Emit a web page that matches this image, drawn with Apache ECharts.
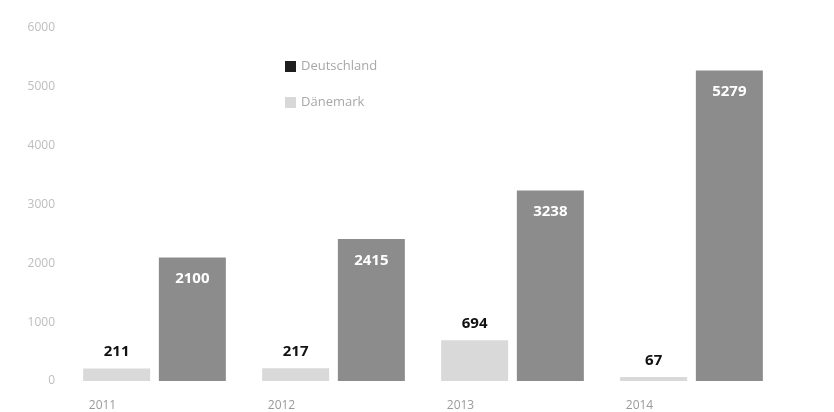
<!DOCTYPE html>
<html>
<head>
<meta charset="utf-8">
<script src="https://cdn.jsdelivr.net/npm/echarts@6/dist/echarts.min.js"></script>
<style>
  html, body { margin: 0; padding: 0; background: #fff; }
  #chart { width: 834px; height: 412px; }
</style>
</head>
<body>
<div id="chart"></div>
<script>
// Years on the category axis
const years = ['2011', '2012', '2013', '2014'];
// Values per country
const daenemark = [211, 217, 694, 67];
const deutschland = [2100, 2415, 3238, 5279];
// Value axis ticks
const yTicks = [0, 1000, 2000, 3000, 4000, 5000, 6000];

const chart = echarts.init(document.getElementById('chart'));

chart.setOption({
  backgroundColor: '#ffffff',
  animation: false,
  textStyle: { fontFamily: 'Open Sans, sans-serif' },
  legend: {
    orient: 'vertical',
    left: 280,
    top: 55,
    itemWidth: 11,
    itemHeight: 11,
    itemGap: 23,
    textStyle: { color: '#a8a8a8', fontSize: 13 },
    data: [
      { name: 'Deutschland', icon: 'rect', itemStyle: { color: '#1e1e1e' } },
      { name: 'Dänemark', icon: 'rect', itemStyle: { color: '#d8d8d8' } }
    ]
  },
  grid: { left: 65, right: 53, top: 28, bottom: 30, containLabel: false },
  xAxis: {
    type: 'category',
    data: years,
    axisLine: { show: false },
    axisTick: { show: false },
    axisLabel: {
      color: '#9a9a9a',
      fontSize: 12,
      margin: 19,
      padding: [0, 104, 0, 0]
    }
  },
  yAxis: {
    type: 'value',
    min: yTicks[0],
    max: yTicks[yTicks.length - 1],
    interval: 1000,
    splitLine: { show: false },
    axisLine: { show: false },
    axisTick: { show: false },
    axisLabel: {
      color: '#bdbdbd',
      fontSize: 12,
      margin: 10,
      formatter: v => String(v)
    }
  },
  series: [
    {
      name: 'Dänemark',
      type: 'bar',
      data: daenemark,
      barWidth: 67,
      barGap: '13%',
      itemStyle: { color: '#d9d9d9' },
      label: {
        show: true,
        position: 'top',
        distance: 9,
        color: '#111',
        fontWeight: 'bold',
        fontSize: 15
      }
    },
    {
      name: 'Deutschland',
      type: 'bar',
      data: deutschland,
      barWidth: 67,
      itemStyle: { color: '#8c8c8c' },
      label: {
        show: true,
        position: 'insideTop',
        distance: 14,
        color: '#ffffff',
        fontWeight: 'bold',
        fontSize: 15
      }
    }
  ]
});
</script>
</body>
</html>
